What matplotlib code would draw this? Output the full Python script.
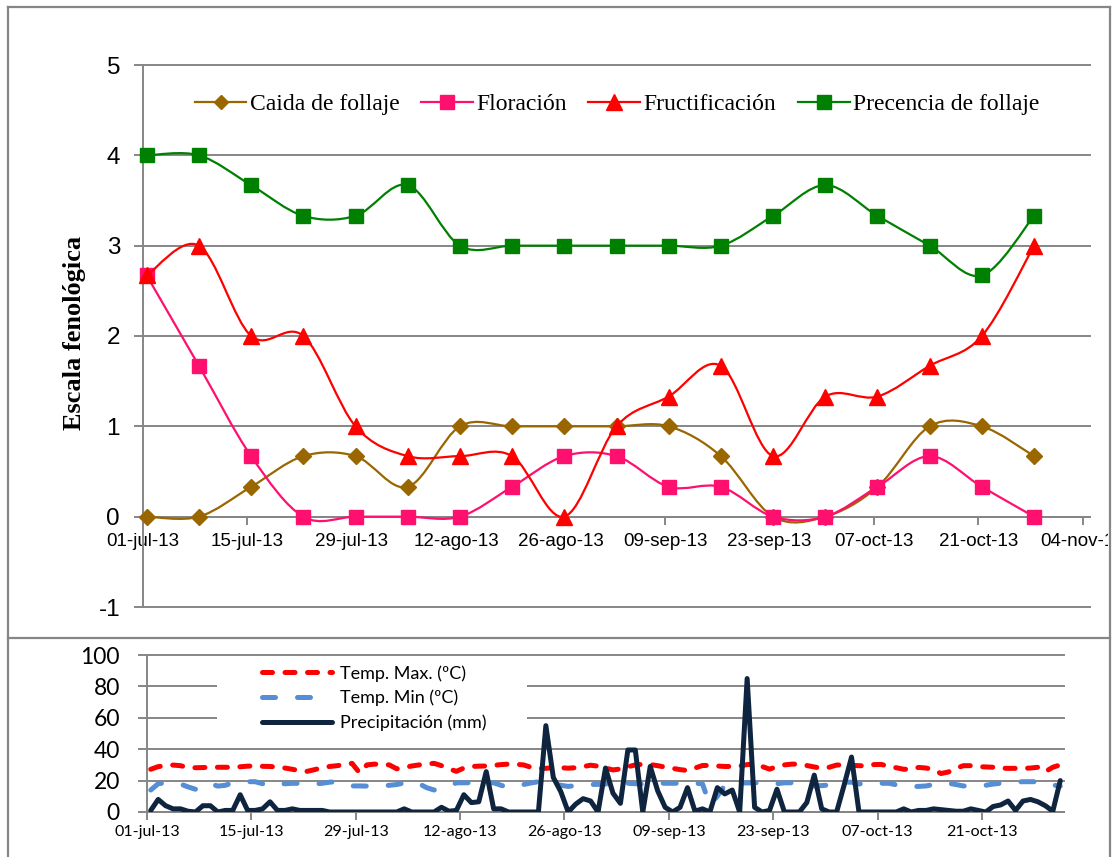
import numpy as np
import pandas as pd
import matplotlib
matplotlib.use("Agg")
import matplotlib.pyplot as plt
from matplotlib.path import Path
from matplotlib.patches import PathPatch, Rectangle
from matplotlib.lines import Line2D
from matplotlib.transforms import Bbox, TransformedBbox

plt.rcParams["axes.unicode_minus"] = False

# ---------------- data ----------------
start = pd.Timestamp("2013-07-01")
obs_dates = pd.date_range("2013-07-01", "2013-10-28", freq="7D")

caida = [0, 0, 0.33, 0.67, 0.67, 0.33, 1, 1, 1, 1, 1, 0.67, 0, 0, 0.33, 1, 1, 0.67]
floracion = [2.67, 1.67, 0.67, 0, 0, 0, 0, 0.33, 0.67, 0.67, 0.33, 0.33, 0, 0, 0.33, 0.67, 0.33, 0]
fructificacion = [2.67, 3, 2, 2, 1, 0.67, 0.67, 0.67, 0, 1, 1.33, 1.67, 0.67, 1.33, 1.33, 1.67, 2, 3]
precencia = [4, 4, 3.67, 3.33, 3.33, 3.67, 3, 3, 3, 3, 3, 3, 3.33, 3.67, 3.33, 3, 2.67, 3.33]

top_tick_labels = ["01-jul-13", "15-jul-13", "29-jul-13", "12-ago-13", "26-ago-13",
                   "09-sep-13", "23-sep-13", "07-oct-13", "21-oct-13", "04-nov-13"]
bottom_tick_labels = top_tick_labels[:9]

daily_dates = pd.date_range("2013-07-01", "2013-10-31", freq="D")

temp_max = [27.2, 28.9, 29.5, 29.9, 29.5, 28.3, 28.2, 28.3, 28.5, 28.5,
            28.5, 28.5, 28.8, 29.2, 29.3, 29.1, 29.0, 28.6, 28.0, 27.2,
            26.3, 25.9, 27.0, 28.2, 29.0, 29.5, 30.2, 31.0, 25.0, 30.0,
            30.5, 30.3, 30.0, 27.5, 28.3, 29.3, 30.0, 30.5, 31.0, 29.5,
            27.5, 25.9, 28.0, 29.0, 29.2, 29.3, 29.7, 30.2, 30.5, 30.4,
            30.0, 28.5, 27.8, 27.8, 28.3, 28.2, 27.9, 28.2, 28.9, 29.8,
            29.2, 28.0, 26.8, 27.4, 28.8, 30.0, 30.4, 30.2, 29.5, 28.6,
            27.8, 27.0, 26.4, 28.0, 29.6, 29.7, 29.3, 29.0, 29.0, 29.3,
            30.2, 30.5, 29.0, 27.3, 28.9, 30.0, 30.5, 30.5, 29.6, 28.7,
            27.8, 28.5, 29.9, 30.0, 29.7, 29.5, 29.3, 30.2, 30.3, 29.0,
            28.2, 27.2, 27.3, 28.4, 28.0, 27.0, 24.5, 25.5, 27.8, 29.5,
            29.5, 28.9, 28.7, 28.5, 27.9, 27.8, 27.8, 27.8, 28.0, 28.5,
            25.7, 28.5, 30.0]

temp_min = [14.0, 18.0, 18.6, 18.3, 17.8, 16.0, 14.5, 17.8, 18.0, 16.5,
            17.0, 18.6, 19.3, 19.3, 19.3, 18.0, 16.6, 17.8, 18.0, 18.3,
            18.2, 18.0, 17.8, 18.3, 19.0, 19.3, 17.5, 16.6, 16.6, 16.5,
            16.3, 16.6, 17.0, 17.5, 18.5, 19.3, 18.0, 15.5, 14.0, 15.0,
            16.3, 18.6, 18.6, 18.6, 18.6, 18.6, 18.6, 17.0, 15.6, 16.5,
            17.5, 18.5, 19.3, 18.8, 18.0, 17.0, 16.3, 16.8, 17.2, 17.5,
            17.6, 17.8, 18.0, 18.3, 18.3, 18.0, 17.8, 17.8, 18.3, 18.3,
            18.3, 18.3, 18.3, 18.3, 18.0, 4.5, 10.0, 17.0, 18.3, 18.5,
            18.5, 18.6, 18.5, 18.3, 18.0, 18.6, 18.6, 18.0, 17.2, 16.6,
            16.8, 17.2, 18.0, 19.0, 19.0, 17.8, 18.6, 18.5, 18.3, 18.3,
            17.3, 16.3, 16.2, 16.3, 16.6, 17.5, 18.6, 18.3, 17.5, 16.6,
            16.6, 16.6, 17.0, 17.8, 18.3, 18.6, 19.0, 19.3, 19.3, 19.3,
            19.3, 17.2, 16.5]

precipitacion = [1, 8, 4, 2, 2, 0.5, 0, 4, 4, 0,
                 1, 1, 11, 1, 1, 2, 6.5, 1, 1, 2,
                 1, 1, 1, 1, 0, 0, 0, 0, 0, 0,
                 0, 0, 0, 0, 2, 0, 0, 0, 0, 3,
                 0.5, 1, 11, 6, 6.5, 25.7, 2, 2, 0, 0,
                 0, 0, 0, 55, 22, 13, 0, 5, 8.5, 7,
                 0, 28, 12, 5.5, 39.5, 39.5, 0, 29, 13.5, 3,
                 0, 3, 15.5, 0.5, 2, 0, 15.5, 11.5, 14, 0,
                 85, 3, 0, 1, 14.5, 0, 0, 0, 6, 23.5,
                 2, 0, 0, 17, 35, 0, 0, 0, 0, 0,
                 0, 2, 0, 1, 1, 2, 1.5, 1, 0.5, 0.5,
                 2, 1, 0, 3.5, 4.5, 7, 1, 7, 8, 6.5,
                 4, 0.5, 20]

# ---------------- styling ----------------
W, H = 1114, 857
fig = plt.figure(figsize=(W / 100, H / 100), dpi=100)
GRAY = "#868686"

def px_x(x):
    return x / W

def px_y(y):
    return 1 - y / H

def smooth_path(x, y):
    pts = np.column_stack([x, y]).astype(float)
    n = len(pts)
    verts = [pts[0]]
    codes = [Path.MOVETO]
    for i in range(n - 1):
        p0 = pts[i - 1] if i > 0 else pts[i]
        p1 = pts[i]
        p2 = pts[i + 1]
        p3 = pts[i + 2] if i + 2 < n else pts[i + 1]
        c1 = p1 + (p2 - p0) / 6.0
        c2 = p2 - (p3 - p1) / 6.0
        verts += [c1, c2, p2]
        codes += [Path.CURVE4] * 3
    return Path(verts, codes)

# ---------------- top chart ----------------
l, r, t, b = 143, 1090, 65, 607
ax = fig.add_axes([px_x(l), px_y(b), px_x(r - l), (b - t) / H])
ax.spines["top"].set_visible(False)
ax.spines["right"].set_visible(False)
ax.spines["bottom"].set_position(("data", 0))
xo = np.array([(d - start).days for d in obs_dates]) + 0.5

series = [
    ("Caida de follaje", caida, "#996600", "D", 8.0),
    ("Floración", floracion, "#FF0F6E", "s", 10.5),
    ("Fructificación", fructificacion, "#FF0000", "^", 11.5),
    ("Precencia de follaje", precencia, "#008000", "s", 10.5),
]
handles = []
for i, (name, vals, col, mk, ms) in enumerate(series):
    patch = PathPatch(smooth_path(xo, vals), fill=False, edgecolor=col, lw=1.6,
                      transform=ax.transData, zorder=3 + 2 * i)
    ax.add_patch(patch)
    ax.plot(xo, vals, linestyle="none", marker=mk, ms=ms, color=col,
            markeredgecolor=col, zorder=4 + 2 * i, clip_on=False)
    handles.append(Line2D([], [], color=col, lw=1.6, marker=mk, ms=ms * 0.95,
                          markeredgecolor=col))

ax.set_xlim(0, 127)
ax.set_ylim(-1, 5)
ax.set_yticks(range(-1, 6))
ax.set_xticks(range(0, 127, 14))
ax.set_xticklabels(top_tick_labels, fontfamily="Liberation Sans", fontsize=13.5)
for lab in ax.get_yticklabels():
    lab.set_fontfamily("Liberation Sans")
    lab.set_fontsize(17.5)
ax.spines["bottom"].set_color(GRAY)
ax.spines["left"].set_color(GRAY)
ax.spines["bottom"].set_linewidth(1.4)
ax.spines["left"].set_linewidth(1.4)
ax.tick_params(axis="y", direction="out", length=6.5, width=1.4, color=GRAY, pad=10)
ax.tick_params(axis="x", direction="out", length=5.5, width=1.4, color=GRAY, pad=6.5)
ax.yaxis.grid(True, color=GRAY, lw=1.4)
ax.set_axisbelow(True)
for gl in ax.get_ygridlines():
    gl.set_clip_on(False)
ax.set_ylabel("Escala fenológica", fontfamily="Liberation Serif", fontweight="bold",
              fontsize=19)
ax.yaxis.set_label_coords((86 - l) / (r - l), 0.505)

clip_bb = TransformedBbox(Bbox([[0, 0], [1108 / W, 1]]), fig.transFigure)
last = ax.get_xticklabels()[-1]
last.set_clip_box(clip_bb)
last.set_clip_on(True)

leg = ax.legend(handles, [s[0] for s in series], ncol=4, loc="center",
                bbox_to_anchor=((617 - l) / (r - l), (b - 104) / (b - t)),
                frameon=False, prop={"family": "Liberation Serif", "size": 17},
                handlelength=2.2, handletextpad=0.15, columnspacing=0.9,
                borderaxespad=0)

# ---------------- bottom chart ----------------
l2, r2, t2, b2 = 147, 1064, 655, 812
ax2 = fig.add_axes([px_x(l2), px_y(b2), px_x(r2 - l2), (b2 - t2) / H])
xd = np.array([(d - start).days for d in daily_dates]) + 0.5

ax2.plot(xd, temp_max, color="#FF0000", lw=3.6, dashes=(2.0, 2.5),
         dash_capstyle="round", solid_capstyle="round", label="Temp. Max. (ºC)", zorder=3)
ax2.plot(xd, temp_min, color="#558ED5", lw=3.6, dashes=(2.6, 4.4),
         dash_capstyle="round", solid_capstyle="round", label="Temp. Min (ºC)", zorder=3)
ax2.plot(xd, precipitacion, color="#0F243E", lw=3.6, solid_joinstyle="round",
         solid_capstyle="round", label="Precipitación (mm)", zorder=4)

ax2.set_xlim(0, 123)
ax2.set_ylim(0, 100)
ax2.set_yticks(range(0, 101, 20))
ax2.set_xticks(range(0, 113, 14))
ax2.set_xticklabels(bottom_tick_labels, fontfamily="Lato", fontsize=11.5)
for lab in ax2.get_yticklabels():
    lab.set_fontfamily("Lato")
    lab.set_fontsize(16.5)
ax2.spines["top"].set_visible(False)
ax2.spines["right"].set_visible(False)
for s in ("bottom", "left"):
    ax2.spines[s].set_color(GRAY)
    ax2.spines[s].set_linewidth(1.4)
ax2.tick_params(axis="y", direction="out", length=6.5, width=1.4, color=GRAY, pad=13)
ax2.tick_params(axis="x", direction="out", length=5.5, width=1.4, color=GRAY, pad=4)
ax2.yaxis.grid(True, color=GRAY, lw=1.4)
ax2.set_axisbelow(True)
for gl in ax2.get_ygridlines():
    gl.set_clip_on(False)

# white legend background (covers gridlines like the original)
bg = Rectangle((px_x(217), px_y(740)), px_x(527 - 217), (740 - 662) / H,
               transform=fig.transFigure, facecolor="white", edgecolor="none", zorder=2)
fig.add_artist(bg)
ax2.set_zorder(1)
ax2.patch.set_alpha(0)

leg2 = fig.legend(*ax2.get_legend_handles_labels(), loc="upper left",
                  bbox_to_anchor=(px_x(262), px_y(665)),
                  frameon=False, prop={"family": "Lato", "size": 13},
                  handlelength=3.9, handletextpad=0.4, borderaxespad=0, borderpad=0,
                  labelspacing=0.45)
leg2.set_zorder(6)

# ---------------- frames ----------------
frame_kw = dict(color=GRAY, lw=1.6, transform=fig.transFigure)
fig.add_artist(Line2D([px_x(8), px_x(8)], [px_y(7), px_y(857)], **frame_kw))
fig.add_artist(Line2D([px_x(1110), px_x(1110)], [px_y(7), px_y(857)], **frame_kw))
fig.add_artist(Line2D([px_x(8), px_x(1110)], [px_y(7), px_y(7)], **frame_kw))
fig.add_artist(Line2D([px_x(8), px_x(1110)], [px_y(638), px_y(638)], **frame_kw))

fig.savefig("out.png", dpi=100, facecolor="white")
